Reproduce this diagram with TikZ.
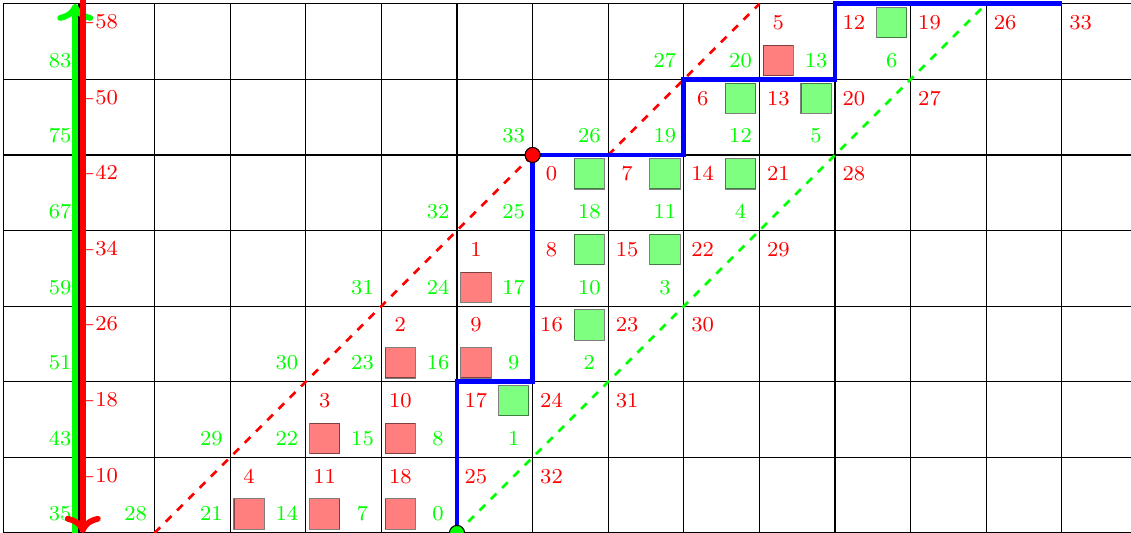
\documentclass[tikz,border=0pt]{standalone}
\usepackage{amsmath,amssymb}
\usepackage{tikz}
\usetikzlibrary{positioning,arrows.meta}

\begin{document}
\begin{tikzpicture}[x=1.0cm,y=1.0cm,
  rlbl/.style={text=red,font=\footnotesize},
  glbl/.style={text=green,font=\footnotesize},
  rbox/.style={draw,fill=red,opacity=0.5,minimum size=0.4cm,inner sep=0pt},
  gbox/.style={draw,fill=green,opacity=0.5,minimum size=0.4cm,inner sep=0pt},
  enddot/.style={circle,draw,minimum size=0.2cm,inner sep=0pt}]
\useasboundingbox (-6.045,0) rectangle (8.915,7.05);
\draw (-6,-0.5) grid (9.5,7);
% squares
\foreach \i/\j in {-3/0,-2/0,-1/0,-2/1,-1/1,-1/2,0/2,0/3,4/6}
  \node[rbox] (rb\i-\j) at (\i+0.25,\j+0.25) {};
\foreach \i/\j in {0/1,1/2,1/3,2/3,1/4,2/4,3/4,3/5,4/5,5/6}
  \node[gbox] (gb\i-\j) at (\i+0.75,\j+0.75) {};
% numbers
\foreach \i in {-6,...,8}
  \foreach \j in {0,...,6}{
    \pgfmathtruncatemacro{\r}{25+7*\i-8*\j}
    \pgfmathtruncatemacro{\g}{8*\j-7*(\i+1)}
    \pgfmathtruncatemacro{\showr}{or(and(\r>=0,\r<=33),\i==-5)}
    \pgfmathtruncatemacro{\showg}{or(and(\g>=0,\g<=33),\i==-6)}
    \ifnum\showr=1 \node[rlbl] (r\i-\j) at (\i+0.25,\j+0.75) {$\r$};\fi
    \ifnum\showg=1 \node[glbl] (g\i-\j) at (\i+0.75,\j+0.25) {$\g$};\fi
  }
\draw[red,line width=1pt,dashed] (-4,0) -- (1,5);
\draw[red,line width=1pt,dashed] (2,5) -- (4,7);
\draw[green,line width=1pt,dashed] (0,0) -- (7,7);
\draw[blue,line width=1.8pt] (0,0) -- (0,2) -- (1,2) -- (1,5) -- (3,5) -- (3,6) -- (5,6) -- (5,7) -- (8,7);
\draw[->,green,line width=2.2pt] (-5.05,-0.2) -- (-5.05,7);
\draw[->,red,line width=2.2pt] (-4.95,7.2) -- (-4.95,0);
\node[enddot,fill=red] (top) at (1,5) {};
\node[enddot,fill=green] (start) at (0,0) {};
\end{tikzpicture}
\end{document}
